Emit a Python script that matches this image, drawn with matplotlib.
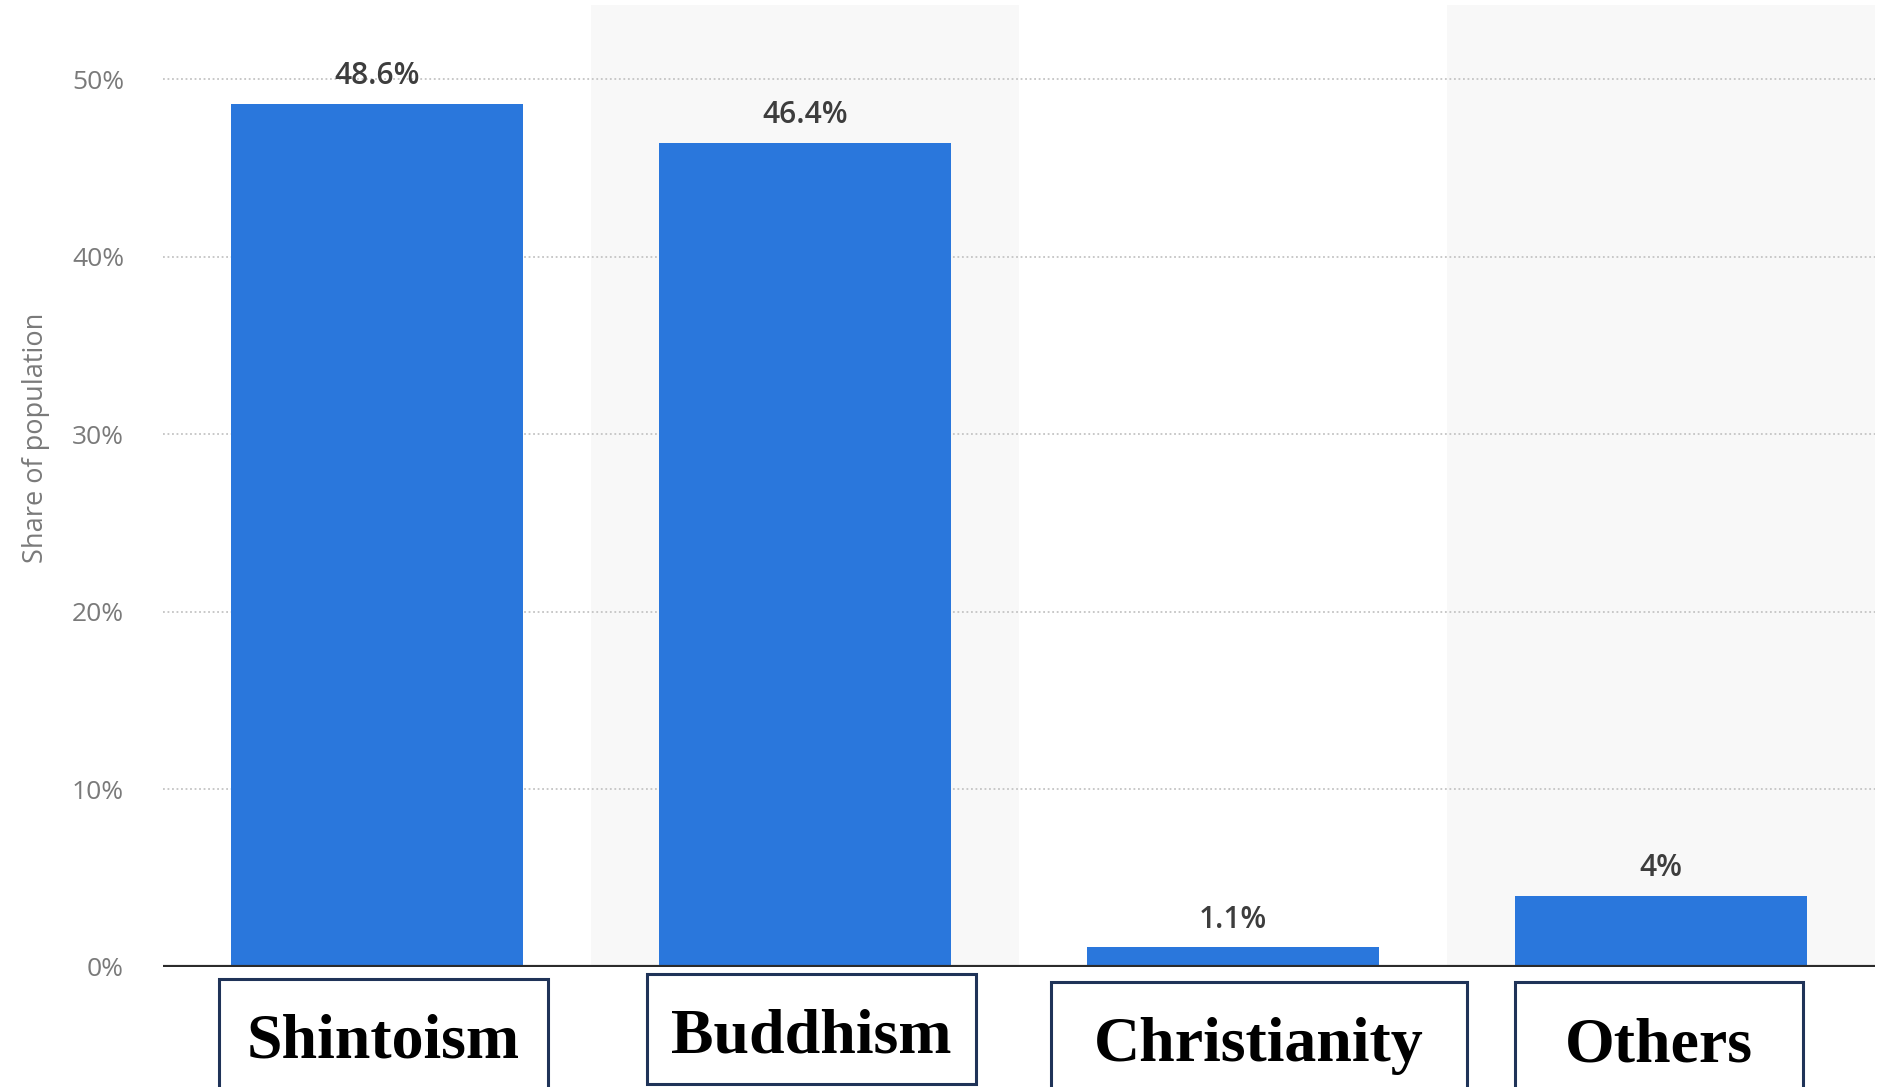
import matplotlib.pyplot as plt
from matplotlib.patches import Rectangle
from matplotlib.transforms import blended_transform_factory

categories = ["Shintoism", "Buddhism", "Christianity", "Others"]
shares = [48.6, 46.4, 1.1, 4.0]
value_labels = ["48.6%", "46.4%", "1.1%", "4%"]
yticks = [0, 10, 20, 30, 40, 50]
ytick_labels = ["0%", "10%", "20%", "30%", "40%", "50%"]

# label boxes under the axis (offsets from category center, data units; y in figure fraction)
box_left = [-0.37, -0.37, -0.425, -0.34]
box_right = [0.40, 0.40, 0.547, 0.332]
box_top = [0.0994, 0.104, 0.0966, 0.0966]
box_bottom = [-0.05, 0.003, -0.05, -0.05]
text_base = [0.0267, 0.0313, 0.024, 0.023]

bar_color = "#2a77dc"
grey_txt = "#7a7a7a"

fig = plt.figure(figsize=(18.78, 10.87), dpi=100)
ax = fig.add_axes([0.0868, 0.1104, 0.9116, 0.885])

x = list(range(len(categories)))

# alternating column shading
for i in x:
    if i % 2 == 1:
        ax.axvspan(i - 0.5, i + 0.5, color="#f8f8f8", zorder=0, lw=0)

ax.bar(x, shares, width=0.68, color=bar_color, zorder=3)

for i, v in enumerate(shares):
    ax.annotate(value_labels[i], (i, v), xytext=(0, 20), textcoords="offset points",
                ha="center", va="center", fontsize=21.5, color="#3d3d3d",
                family="Open Sans", fontweight="semibold", zorder=4)

ax.set_xlim(-0.5, 3.5)
ax.set_ylim(0, 54.17)
ax.set_yticks(yticks)
ax.set_yticklabels(ytick_labels, family="Open Sans", fontsize=19, color=grey_txt)
ax.tick_params(axis="y", length=0, pad=28)
ax.set_xticks([])
ax.yaxis.grid(True, linestyle=(0, (1, 1.5)), color="#c4c4c4", lw=1.3, zorder=1)
ax.set_axisbelow(True)
for s in ax.spines.values():
    s.set_visible(False)
ax.axhline(0, color="#2b2b2b", lw=3, zorder=5)

ax.set_ylabel("Share of population", family="Open Sans", fontsize=19.5, color=grey_txt)
ax.yaxis.set_label_coords(-0.066, 0.55)

trans = blended_transform_factory(ax.transData, fig.transFigure)
for i, name in enumerate(categories):
    l = i + box_left[i]
    r = i + box_right[i]
    rect = Rectangle((l, box_bottom[i]), r - l, box_top[i] - box_bottom[i],
                     transform=trans, fill=False, edgecolor="#1f3358", lw=2.2,
                     clip_on=False)
    fig.add_artist(rect)
    fig.text((l + r) / 2, text_base[i], name, transform=trans, ha="center",
             va="baseline", fontsize=46, fontweight="bold", family="Liberation Serif",
             color="black")

fig.savefig("out.png", dpi=100)
